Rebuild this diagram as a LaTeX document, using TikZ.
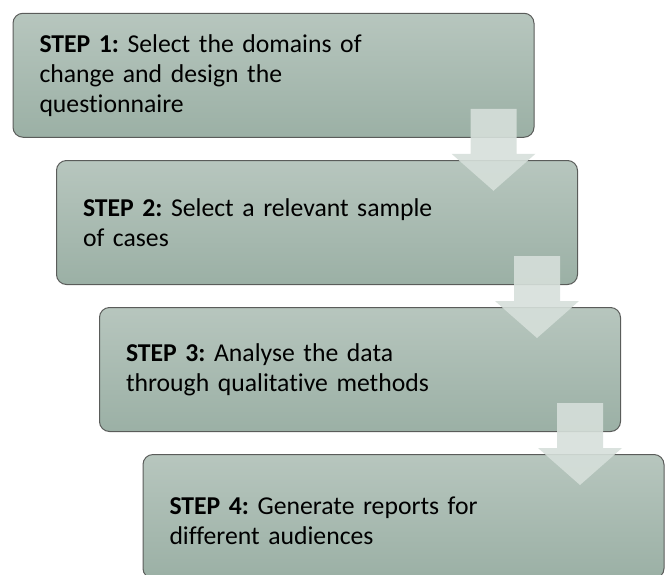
\documentclass[tikz,border=0pt]{standalone}
\usepackage{fontspec}
\setmainfont{Carlito}[Ligatures=NoCommon]
\frenchspacing
\usetikzlibrary{calc}
\definecolor{boxtop}{RGB}{183,198,190}
\definecolor{boxbot}{RGB}{155,176,165}
\definecolor{boxline}{RGB}{90,92,90}
\definecolor{arrowcol}{RGB}{214,223,218}
\tikzset{
  stepbox/.style={draw=boxline, line width=1pt, rounded corners=10pt,
    top color=boxtop, bottom color=boxbot,
    minimum width=521pt, minimum height=124pt,
    text width=468pt, inner xsep=26.5pt, inner ysep=0pt, align=left,
    font=\fontsize{25.7}{30}\selectfont, text=black},
  blockarrow/.style={fill=arrowcol, fill opacity=0.9, draw=none}
}
\newcommand\downblock[1]{%
  \path[blockarrow] ($(#1)+(-64,-29)$) -- ($(#1)+(-18,-29)$) -- ($(#1)+(-18,16)$)
    -- ($(#1)+(1,16)$) -- ($(#1)+(-41,53)$) -- ($(#1)+(-83,16)$)
    -- ($(#1)+(-64,16)$) -- cycle;}
\begin{document}
\begin{tikzpicture}[x=1pt,y=-1pt]
\useasboundingbox (0,0) rectangle (670,574);
\clip (0,0) rectangle (670,574);
\node[stepbox] (s1) at (273.5,75.25) {\textbf{STEP 1:} Select the domains of\\change and design the\\questionnaire};
\node[stepbox] (s2) at (317,222.5) {\textbf{STEP 2:} Select a relevant sample\\of cases};
\node[stepbox] (s3) at (360,369.5) {\textbf{STEP 3:} Analyse the data\\through qualitative methods};
\node[stepbox] (s4) at (403.5,516.5) {\rule{0pt}{26pt}\textbf{STEP 4:} Generate reports for\\different audiences};
\downblock{s1.south east}
\downblock{s2.south east}
\downblock{s3.south east}
\end{tikzpicture}
\end{document}
